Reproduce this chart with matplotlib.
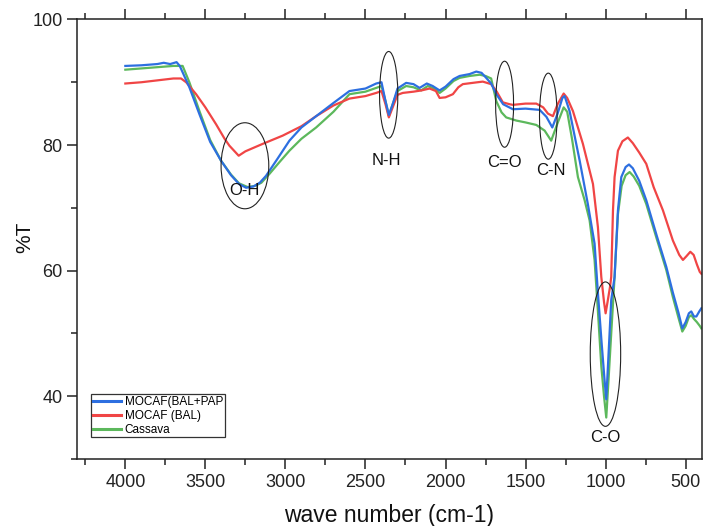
import matplotlib
matplotlib.use("Agg")
import matplotlib.pyplot as plt
from matplotlib.patches import Ellipse
from matplotlib.ticker import MultipleLocator

plt.rcParams['font.family'] = ['Liberation Sans', 'DejaVu Sans']

# ---- data ----
blue_x = [4000, 3900, 3800, 3760, 3720, 3680, 3660, 3600, 3537, 3470, 3402, 3340, 3290, 3246, 3200,
          3160, 3121, 3050, 2975, 2900, 2808, 2700, 2600, 2500, 2433, 2400, 2375, 2354, 2330, 2300,
          2246, 2200, 2162, 2117, 2080, 2037, 2000, 1950, 1912, 1850, 1808, 1775, 1746, 1715, 1683,
          1640, 1579, 1500, 1412, 1370, 1333, 1300, 1270, 1256, 1225, 1190, 1162, 1111, 1069, 1048,
          1025, 1008, 996, 985, 965, 944, 923, 902, 875, 854, 830, 790, 746, 680, 621, 580, 545,
          521, 500, 480, 465, 448, 433, 415, 402]
blue_y = [92.6, 92.7, 92.9, 93.1, 92.9, 93.2, 92.6, 89.2, 84.9, 80.5, 77.5, 75.2, 73.8, 73.2, 73.4,
          74.0, 75.1, 77.8, 80.7, 82.8, 84.6, 86.7, 88.6, 89.0, 89.8, 90.0, 87.0, 84.8, 86.5, 89.0,
          89.9, 89.7, 89.1, 89.8, 89.4, 88.7, 89.3, 90.5, 91.0, 91.3, 91.7, 91.5, 90.7, 89.8, 88.1,
          86.5, 85.7, 85.8, 85.6, 84.5, 82.8, 85.0, 87.5, 87.8, 85.4, 81.0, 77.5, 70.6, 64.3, 56.4,
          48.5, 43.0, 39.5, 45.0, 55.3, 59.0, 69.6, 74.9, 76.5, 76.9, 76.3, 74.3, 71.2, 65.5, 60.6, 56.5, 53.3,
          50.8, 51.8, 53.2, 53.5, 52.7, 52.7, 53.5, 54.0]

red_x = [4000, 3900, 3800, 3700, 3652, 3620, 3558, 3500, 3433, 3380, 3350, 3292, 3250, 3150, 3017,
         2900, 2808, 2700, 2600, 2500, 2433, 2400, 2375, 2354, 2330, 2300, 2267, 2200, 2150, 2100,
         2060, 2037, 2000, 1954, 1920, 1892, 1800, 1767, 1715, 1680, 1642, 1600, 1579, 1500, 1433,
         1390, 1360, 1329, 1300, 1262, 1240, 1204, 1142, 1079, 1048, 1027, 1010, 1000, 988, 972,
         965, 954, 944, 923, 895, 861, 830, 790, 746, 700, 642, 580, 540, 517, 495, 471, 450, 430,
         412, 402]
red_y = [89.8, 90.0, 90.3, 90.6, 90.6, 90.0, 88.1, 86.0, 83.3, 81.0, 79.9, 78.3, 79.0, 80.1, 81.5,
         83.0, 84.6, 86.3, 87.4, 87.8, 88.3, 88.6, 86.5, 84.4, 86.0, 88.0, 88.3, 88.5, 88.7, 89.0,
         88.6, 87.5, 87.6, 88.1, 89.2, 89.7, 90.0, 90.1, 89.7, 88.5, 86.8, 86.5, 86.4, 86.6, 86.6,
         86.0, 85.0, 84.6, 86.5, 88.2, 87.5, 85.4, 80.2, 73.8, 66.9, 59.0, 55.0, 53.2, 55.0, 57.5,
         59.0, 69.6, 74.9, 79.1, 80.6, 81.2, 80.3, 78.8, 77.0, 73.3, 69.6, 64.8, 62.5, 61.7, 62.3,
         63.0, 62.5, 61.0, 59.8, 59.5]

green_x = [4000, 3900, 3800, 3700, 3660, 3642, 3600, 3537, 3470, 3402, 3340, 3290, 3235, 3190, 3150,
           3100, 3040, 2975, 2900, 2808, 2700, 2600, 2500, 2433, 2400, 2375, 2354, 2330, 2300, 2246,
           2200, 2152, 2111, 2070, 2037, 2000, 1950, 1912, 1850, 1787, 1750, 1715, 1683, 1650,
           1621, 1558, 1500, 1433, 1381, 1340, 1300, 1262, 1240, 1210, 1173, 1131, 1100, 1069, 1048,
           1027, 1010, 996, 982, 965, 944, 923, 900, 875, 850, 825, 790, 746, 680, 621, 580, 545,
           521, 500, 480, 465, 448, 430, 412, 402]
green_y = [92.0, 92.2, 92.4, 92.6, 92.6, 92.6, 90.0, 85.4, 80.8, 77.5, 75.3, 73.9, 73.3, 73.5, 74.0,
           75.4, 77.2, 79.1, 81.0, 82.8, 85.3, 88.1, 88.5, 89.1, 89.4, 87.0, 84.6, 86.5, 88.6, 89.4,
           89.2, 88.7, 89.4, 89.0, 88.3, 89.0, 90.2, 90.7, 91.0, 91.2, 91.0, 90.6, 87.0, 85.2,
           84.4, 83.9, 83.6, 83.2, 82.3, 80.7, 83.5, 86.0, 85.3, 81.0, 74.9, 71.2, 68.0, 61.7, 53.5,
           44.8, 40.0, 36.6, 42.5, 50.0, 59.0, 69.0, 73.5, 75.2, 75.7, 75.0, 73.5, 70.6, 65.0, 60.1, 55.8, 52.5,
           50.3, 51.2, 52.6, 52.9, 52.3, 51.8, 51.2, 50.8]

series_labels = ["MOCAF(BAL+PAP", "MOCAF (BAL)", "Cassava"]
series_colors = ["#2d6fe0", "#f04545", "#5cb85c"]

# annotation ellipses: (label, center x, center y, width, height, label x, label y)
ann_labels = ["O-H", "N-H", "C=O", "C-N", "C-O"]
ann_cx = [3253, 2355, 1631, 1358, 1001]
ann_cy = [76.7, 88.0, 86.5, 84.6, 46.7]
ann_w = [298, 114, 112, 110, 190]
ann_h = [13.7, 13.8, 13.7, 13.7, 23.0]
ann_lx = [3253, 2371, 1631, 1344, 1000]
ann_ly = [72.8, 77.6, 77.2, 75.9, 33.5]

x_ticks = [4000, 3500, 3000, 2500, 2000, 1500, 1000, 500]
y_ticks = [40, 60, 80, 100]

# ---- figure ----
fig = plt.figure(figsize=(7.04, 5.26), dpi=100)
ax = fig.add_axes([0.1098, 0.1274, 0.8869, 0.8356])

lg, = ax.plot(green_x, green_y, color=series_colors[2], lw=1.6, label=series_labels[2])
lr, = ax.plot(red_x, red_y, color=series_colors[1], lw=1.6, label=series_labels[1])
lb, = ax.plot(blue_x, blue_y, color=series_colors[0], lw=1.6, label=series_labels[0])

for lab, cx, cy, w, h, lx, ly in zip(ann_labels, ann_cx, ann_cy, ann_w, ann_h, ann_lx, ann_ly):
    ax.add_patch(Ellipse((cx, cy), w, h, fill=False, edgecolor='#222222', lw=0.8, zorder=5))
    ax.text(lx, ly, lab, ha='center', va='center', fontsize=12, color='#111111')

ax.set_xlim(4300, 400)
ax.set_ylim(30, 100)
ax.set_xticks(x_ticks)
ax.set_yticks(y_ticks)
ax.xaxis.set_minor_locator(MultipleLocator(250))
ax.yaxis.set_minor_locator(MultipleLocator(10))
ax.tick_params(which='both', direction='out', top=True, right=False, labelsize=13,
               colors='#222222', width=1.1)
ax.tick_params(which='major', length=7)
ax.tick_params(which='minor', length=4)
for s in ax.spines.values():
    s.set_linewidth(1.1)
    s.set_color('#222222')

ax.set_xlabel("wave number (cm-1)", fontsize=16.5, color='#111111', labelpad=10)
ax.set_ylabel("%T", fontsize=15, color='#111111')
ax.yaxis.set_label_coords(-0.069, 0.505)

leg = ax.legend(handles=[lb, lr, lg], loc='upper left', bbox_to_anchor=(0.022, 0.147),
                borderaxespad=0, fontsize=8.5, frameon=True, fancybox=False,
                edgecolor='#333333', framealpha=1, borderpad=0.15, labelspacing=0.15,
                handlelength=2.4, handletextpad=0.3)
leg.get_frame().set_linewidth(0.9)
for line in leg.get_lines():
    line.set_linewidth(2.2)

fig.savefig("out.png", dpi=100)
